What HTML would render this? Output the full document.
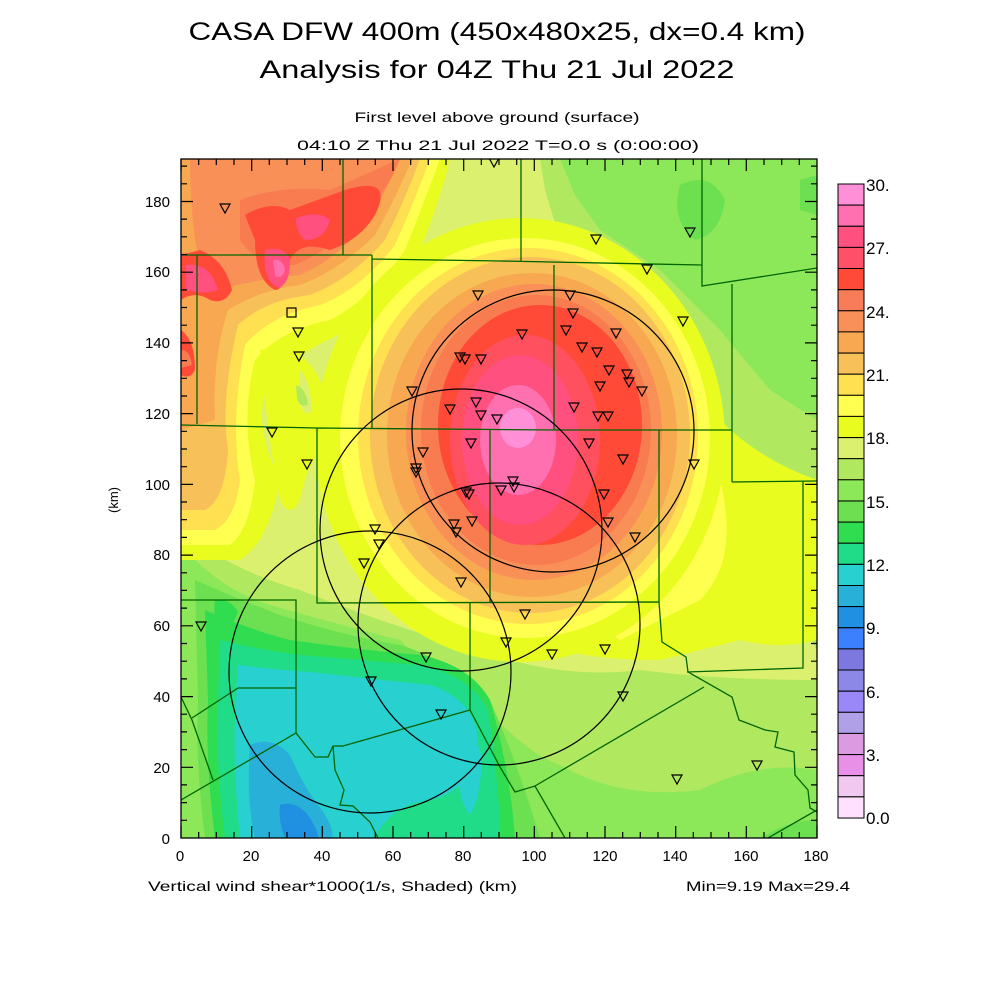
<!DOCTYPE html>
<html><head><meta charset="utf-8"><style>
html,body{margin:0;padding:0;background:#fff;}
svg{display:block;}
text{font-family:"Liberation Sans",sans-serif;fill:#000;}
</style></head><body>
<svg width="1000" height="1000" viewBox="0 0 1000 1000" xmlns="http://www.w3.org/2000/svg">
<rect width="1000" height="1000" fill="#fff"/>
<text x="497" y="40" font-size="25" text-anchor="middle" textLength="617" lengthAdjust="spacingAndGlyphs">CASA DFW 400m (450x480x25, dx=0.4 km)</text>
<text x="497" y="78" font-size="25" text-anchor="middle" textLength="475" lengthAdjust="spacingAndGlyphs">Analysis for 04Z Thu 21 Jul 2022</text>
<text x="497" y="122" font-size="14" text-anchor="middle" textLength="285" lengthAdjust="spacingAndGlyphs">First level above ground (surface)</text>
<text x="498" y="150" font-size="14" text-anchor="middle" textLength="402" lengthAdjust="spacingAndGlyphs">04:10 Z Thu 21 Jul 2022    T=0.0 s (0:00:00)</text>
<defs><clipPath id="pc"><rect x="181" y="159" width="636" height="679"/></clipPath></defs>
<g clip-path="url(#pc)">
<rect x="181" y="159" width="636" height="679" fill="#dcf070"/>
<!-- top right greens -->
<path d="M540,159 L817,159 L817,650 L790,600 L740,520 L700,430 L650,350 L600,290 L560,240 L545,190Z" fill="#b0e860"/>
<path d="M560,159 L817,159 L817,420 L770,390 L720,330 L660,270 L600,230 L575,195Z" fill="#8ce858"/>
<path d="M680,185 Q710,170 725,200 Q720,235 695,240 Q670,220 680,185Z" fill="#6ce050"/>
<path d="M800,180 L817,175 L817,215 L800,210Z" fill="#6ce050"/>
<!-- bottom greens -->
<path d="M181,530 Q230,570 300,590 Q400,630 480,650 Q560,680 640,670 Q720,680 817,680 L817,838 L181,838Z" fill="#b0e860"/>
<path d="M181,545 Q220,590 270,605 Q340,625 400,640 Q440,680 480,700 Q520,750 560,765 Q620,800 700,790 Q760,760 817,770 L817,838 L181,838Z" fill="#8ce858"/>
<path d="M195,580 Q240,600 280,615 Q340,635 400,645 Q450,660 490,700 Q520,770 540,838 L205,838 Q195,760 198,700Z" fill="#6ce050"/>
<path d="M700,838 Q710,800 760,790 Q800,780 817,800 L817,838Z" fill="#8ce858"/>
<path d="M760,838 Q790,820 817,820 L817,838Z" fill="#6ce050"/>
<path d="M205,610 Q250,630 290,640 Q360,650 420,655 Q470,665 490,700 Q510,770 515,838 L215,838 Q205,760 208,700Z" fill="#30dc50"/>
<path d="M215,600 Q230,598 238,612 Q233,628 222,628 Q212,620 215,600Z" fill="#30dc50"/>
<path d="M220,640 Q260,650 300,655 Q360,660 420,665 Q470,675 488,710 Q500,790 500,838 L225,838 Q215,760 218,700Z" fill="#20dc88"/>
<path d="M238,665 Q275,670 310,672 Q380,680 430,685 Q475,700 478,740 Q475,790 430,800 Q390,805 375,838 L240,838 Q232,760 236,700Z" fill="#28d0d0"/>
<path d="M460,740 Q478,730 482,760 Q480,800 470,815 Q458,800 458,770Z" fill="#28d0d0"/>
<path d="M250,745 Q272,735 290,755 Q305,790 322,810 Q335,830 332,838 L255,838 Q246,800 250,745Z" fill="#28b0d8"/>
<path d="M280,805 Q295,800 308,815 Q318,830 318,838 L285,838 Q278,820 280,805Z" fill="#2090e0"/>
<!-- right yellow -->
<path d="M600,300 Q680,340 720,420 Q760,460 817,480 L817,640 Q780,650 740,640 Q700,650 660,660 Q600,660 560,650 L520,600Z" fill="#e8fc20"/>
<path d="M620,380 Q690,420 720,480 Q740,560 700,600 Q660,620 620,640 L560,600Z" fill="#ffff50"/>
<!-- top-left warm region -->
<path d="M181,159 L450,159 Q440,200 420,250 Q390,300 350,330 Q300,350 270,380 Q250,420 280,480 Q270,540 240,560 Q210,560 181,560Z" fill="#e8fc20"/>
<path d="M181,159 L440,159 Q425,200 405,250 Q370,300 330,320 Q280,330 255,360 Q240,420 255,480 Q250,530 230,545 Q205,545 181,545Z" fill="#ffff50"/>
<path d="M181,159 L430,159 Q415,200 395,245 Q360,290 320,305 Q270,315 245,345 Q230,420 240,480 Q235,520 215,530 L181,530Z" fill="#ffe050"/>
<path d="M181,159 L420,159 Q405,200 385,240 Q350,280 310,295 Q265,300 238,325 Q220,400 228,450 Q225,500 205,510 L181,510Z" fill="#f8c058"/>
<path d="M181,159 L412,159 Q395,200 375,235 Q340,270 300,285 Q260,290 228,310 Q212,360 215,420 L181,430Z" fill="#f8a850"/>
<path d="M190,159 L400,159 Q385,195 365,225 Q335,260 300,275 Q250,280 220,290 Q200,270 195,240 Q190,200 190,159Z" fill="#f89058"/>
<path d="M240,200 Q280,185 330,190 L400,159 Q385,195 360,220 Q330,250 295,265 Q255,265 240,240Z" fill="#f87c50"/>
<path d="M245,215 Q270,200 290,210 L345,190 Q395,175 375,215 Q360,240 330,250 Q300,240 290,260 Q285,290 275,290 Q255,280 255,240Z" fill="#ff4a38"/>
<path d="M296,218 Q320,210 330,220 Q325,240 305,240 Q295,230 296,218Z" fill="#ff5080"/>
<path d="M265,250 Q285,245 290,260 Q290,285 278,288 Q262,280 265,250Z" fill="#ff5080"/>
<path d="M273,260 Q283,258 285,270 Q282,280 275,276Z" fill="#ff70b0"/>
<path d="M181,255 L200,250 Q225,260 232,290 Q225,305 210,300 Q195,290 181,300Z" fill="#ff4a38"/>
<path d="M186,265 Q210,262 218,290 Q205,295 186,290Z" fill="#ff5080"/>
<path d="M181,330 Q195,340 195,370 Q190,380 181,375Z" fill="#ff4a38"/>
<path d="M181,350 Q190,350 192,365 L181,368Z" fill="#f87c50"/>
<!-- left mid greenish -->
<path d="M260,350 Q300,340 320,380 Q330,420 320,450 Q305,470 300,500 Q290,520 280,500 Q270,450 265,400Z" fill="#e8fc20"/>
<path d="M300,370 Q310,380 312,410 Q305,420 298,400Z" fill="#dcf070"/>
<path d="M296,385 Q306,388 308,405 Q300,408 297,398Z" fill="#b0e860"/>
<!-- core -->
<ellipse cx="520" cy="440" rx="205" ry="222" fill="#e8fc20"/>
<ellipse cx="525" cy="438" rx="185" ry="200" fill="#ffff50"/>
<ellipse cx="528" cy="436" rx="170" ry="188" fill="#ffe050"/>
<ellipse cx="530" cy="435" rx="160" ry="178" fill="#f8c058"/>
<ellipse cx="532" cy="435" rx="145" ry="162" fill="#f8a850"/>
<ellipse cx="534" cy="432" rx="128" ry="148" fill="#f89058"/>
<ellipse cx="536" cy="430" rx="115" ry="135" fill="#f87c50"/>
<ellipse cx="540" cy="425" rx="102" ry="120" fill="#ff4a38"/>
<ellipse cx="525" cy="440" rx="75" ry="105" fill="#ff5060"/>
<ellipse cx="520" cy="440" rx="58" ry="85" fill="#ff5080"/>
<ellipse cx="518" cy="440" rx="38" ry="55" fill="#ff70b0"/>
<ellipse cx="518" cy="428" rx="18" ry="20" fill="#ff90d8"/>
<!-- county lines -->
<g fill="none" stroke="#006400" stroke-width="1.3">
<path d="M343,159 L343,255 M181,255 L372,255 M197,255 L197,424 M181,425 L317,428 L554,430 L732,430 M372,255 L372,428 M372,259 L500,261 L702,265 M521,159 L521,261 M702,159 L702,286 L817,268 M732,284 L732,482 M554,265 L554,430 M659,430 L659,602 M732,482 L817,481 M803,481 L803,668 L687,672 M317,428 L317,603 L659,602 M490,430 L490,603 M181,600 L296,600 L296,733 M238,688 L296,688 M181,697 L192,720 L213,780 M192,718 L238,688 M181,800 L296,733 L315,757 L328,757 L333,746 L343,746 L470,710 M470,603 L470,710 L500,767 L515,792 L535,786 L565,838 M535,786 L704,687 M659,602 L662,642 L686,657 L688,672 L732,697 L739,720 L765,730 L778,732 L775,747 L794,752 L795,775 L808,790 L810,808 L817,812 M768,838 L817,810 M333,746 L335,770 L344,790 L340,805 L353,806 L370,822 L378,838"/>
</g>
<!-- range circles -->
<g fill="none" stroke="#000" stroke-width="1.2">
<circle cx="553" cy="431" r="141"/>
<circle cx="461" cy="530" r="141"/>
<circle cx="499" cy="624" r="141"/>
<circle cx="370" cy="672" r="141"/>
</g>
<!-- stations -->
<g fill="none" stroke="#000" stroke-width="1.2">
<path d="M-5,-4 L5,-4 L0,5Z" transform="translate(225,208)"/>
<path d="M-5,-4 L5,-4 L0,5Z" transform="translate(298,332)"/>
<path d="M-5,-4 L5,-4 L0,5Z" transform="translate(299,356)"/>
<path d="M-5,-4 L5,-4 L0,5Z" transform="translate(272,432)"/>
<path d="M-5,-4 L5,-4 L0,5Z" transform="translate(307,464)"/>
<path d="M-5,-4 L5,-4 L0,5Z" transform="translate(478,295)"/>
<path d="M-5,-4 L5,-4 L0,5Z" transform="translate(494,162)"/>
<path d="M-5,-4 L5,-4 L0,5Z" transform="translate(596,239)"/>
<path d="M-5,-4 L5,-4 L0,5Z" transform="translate(647,269)"/>
<path d="M-5,-4 L5,-4 L0,5Z" transform="translate(690,232)"/>
<path d="M-5,-4 L5,-4 L0,5Z" transform="translate(683,321)"/>
<path d="M-5,-4 L5,-4 L0,5Z" transform="translate(570,295)"/>
<path d="M-5,-4 L5,-4 L0,5Z" transform="translate(573,313)"/>
<path d="M-5,-4 L5,-4 L0,5Z" transform="translate(566,330)"/>
<path d="M-5,-4 L5,-4 L0,5Z" transform="translate(616,333)"/>
<path d="M-5,-4 L5,-4 L0,5Z" transform="translate(522,334)"/>
<path d="M-5,-4 L5,-4 L0,5Z" transform="translate(582,347)"/>
<path d="M-5,-4 L5,-4 L0,5Z" transform="translate(597,352)"/>
<path d="M-5,-4 L5,-4 L0,5Z" transform="translate(609,370)"/>
<path d="M-5,-4 L5,-4 L0,5Z" transform="translate(627,374)"/>
<path d="M-5,-4 L5,-4 L0,5Z" transform="translate(629,382)"/>
<path d="M-5,-4 L5,-4 L0,5Z" transform="translate(642,391)"/>
<path d="M-5,-4 L5,-4 L0,5Z" transform="translate(600,386)"/>
<path d="M-5,-4 L5,-4 L0,5Z" transform="translate(574,407)"/>
<path d="M-5,-4 L5,-4 L0,5Z" transform="translate(598,416)"/>
<path d="M-5,-4 L5,-4 L0,5Z" transform="translate(608,416)"/>
<path d="M-5,-4 L5,-4 L0,5Z" transform="translate(589,443)"/>
<path d="M-5,-4 L5,-4 L0,5Z" transform="translate(623,459)"/>
<path d="M-5,-4 L5,-4 L0,5Z" transform="translate(694,464)"/>
<path d="M-5,-4 L5,-4 L0,5Z" transform="translate(604,494)"/>
<path d="M-5,-4 L5,-4 L0,5Z" transform="translate(608,522)"/>
<path d="M-5,-4 L5,-4 L0,5Z" transform="translate(635,537)"/>
<path d="M-5,-4 L5,-4 L0,5Z" transform="translate(460,357)"/>
<path d="M-5,-4 L5,-4 L0,5Z" transform="translate(465,359)"/>
<path d="M-5,-4 L5,-4 L0,5Z" transform="translate(481,359)"/>
<path d="M-5,-4 L5,-4 L0,5Z" transform="translate(412,391)"/>
<path d="M-5,-4 L5,-4 L0,5Z" transform="translate(450,409)"/>
<path d="M-5,-4 L5,-4 L0,5Z" transform="translate(476,402)"/>
<path d="M-5,-4 L5,-4 L0,5Z" transform="translate(481,415)"/>
<path d="M-5,-4 L5,-4 L0,5Z" transform="translate(497,419)"/>
<path d="M-5,-4 L5,-4 L0,5Z" transform="translate(423,452)"/>
<path d="M-5,-4 L5,-4 L0,5Z" transform="translate(471,443)"/>
<path d="M-5,-4 L5,-4 L0,5Z" transform="translate(416,468)"/>
<path d="M-5,-4 L5,-4 L0,5Z" transform="translate(416,472)"/>
<path d="M-5,-4 L5,-4 L0,5Z" transform="translate(513,481)"/>
<path d="M-5,-4 L5,-4 L0,5Z" transform="translate(514,487)"/>
<path d="M-5,-4 L5,-4 L0,5Z" transform="translate(466,492)"/>
<path d="M-5,-4 L5,-4 L0,5Z" transform="translate(469,494)"/>
<path d="M-5,-4 L5,-4 L0,5Z" transform="translate(501,490)"/>
<path d="M-5,-4 L5,-4 L0,5Z" transform="translate(472,521)"/>
<path d="M-5,-4 L5,-4 L0,5Z" transform="translate(454,524)"/>
<path d="M-5,-4 L5,-4 L0,5Z" transform="translate(456,532)"/>
<path d="M-5,-4 L5,-4 L0,5Z" transform="translate(375,529)"/>
<path d="M-5,-4 L5,-4 L0,5Z" transform="translate(379,544)"/>
<path d="M-5,-4 L5,-4 L0,5Z" transform="translate(364,563)"/>
<path d="M-5,-4 L5,-4 L0,5Z" transform="translate(461,582)"/>
<path d="M-5,-4 L5,-4 L0,5Z" transform="translate(525,614)"/>
<path d="M-5,-4 L5,-4 L0,5Z" transform="translate(506,642)"/>
<path d="M-5,-4 L5,-4 L0,5Z" transform="translate(552,654)"/>
<path d="M-5,-4 L5,-4 L0,5Z" transform="translate(605,649)"/>
<path d="M-5,-4 L5,-4 L0,5Z" transform="translate(426,657)"/>
<path d="M-5,-4 L5,-4 L0,5Z" transform="translate(371,681)"/>
<path d="M-5,-4 L5,-4 L0,5Z" transform="translate(441,714)"/>
<path d="M-5,-4 L5,-4 L0,5Z" transform="translate(201,626)"/>
<path d="M-5,-4 L5,-4 L0,5Z" transform="translate(623,696)"/>
<path d="M-5,-4 L5,-4 L0,5Z" transform="translate(677,779)"/>
<path d="M-5,-4 L5,-4 L0,5Z" transform="translate(757,765)"/>
<rect x="287" y="308" width="9" height="9"/>
</g>
</g>
<!-- frame & ticks -->
<rect x="181" y="159" width="636" height="679" fill="none" stroke="#000" stroke-width="1.3"/>
<g stroke="#000" stroke-width="1.2">
<path d="M181,838 v-12 M198.7,838 v-6 M216.3,838 v-6 M234,838 v-6 M251.7,838 v-12 M269.3,838 v-6 M287,838 v-6 M304.7,838 v-6 M322.3,838 v-12 M340,838 v-6 M357.7,838 v-6 M375.3,838 v-6 M393,838 v-12 M410.7,838 v-6 M428.3,838 v-6 M446,838 v-6 M463.7,838 v-12 M481.3,838 v-6 M499,838 v-6 M516.7,838 v-6 M534.3,838 v-12 M552,838 v-6 M569.7,838 v-6 M587.3,838 v-6 M605,838 v-12 M622.7,838 v-6 M640.3,838 v-6 M658,838 v-6 M675.7,838 v-12 M693.3,838 v-6 M711,838 v-6 M728.7,838 v-6 M746.3,838 v-12 M764,838 v-6 M781.7,838 v-6 M799.3,838 v-6 M817,838 v-12"/>
<path d="M181,159 v12 M198.7,159 v6 M216.3,159 v6 M234,159 v6 M251.7,159 v12 M269.3,159 v6 M287,159 v6 M304.7,159 v6 M322.3,159 v12 M340,159 v6 M357.7,159 v6 M375.3,159 v6 M393,159 v12 M410.7,159 v6 M428.3,159 v6 M446,159 v6 M463.7,159 v12 M481.3,159 v6 M499,159 v6 M516.7,159 v6 M534.3,159 v12 M552,159 v6 M569.7,159 v6 M587.3,159 v6 M605,159 v12 M622.7,159 v6 M640.3,159 v6 M658,159 v6 M675.7,159 v12 M693.3,159 v6 M711,159 v6 M728.7,159 v6 M746.3,159 v12 M764,159 v6 M781.7,159 v6 M799.3,159 v6"/>
<path d="M181,820.3 h6 M181,802.6 h6 M181,784.9 h6 M181,767.3 h12 M181,749.6 h6 M181,731.9 h6 M181,714.2 h6 M181,696.6 h12 M181,678.9 h6 M181,661.2 h6 M181,643.5 h6 M181,625.8 h12 M181,608.1 h6 M181,590.4 h6 M181,572.8 h6 M181,555.1 h12 M181,537.4 h6 M181,519.7 h6 M181,502 h6 M181,484.4 h12 M181,466.7 h6 M181,449 h6 M181,431.3 h6 M181,413.6 h12 M181,396 h6 M181,378.3 h6 M181,360.6 h6 M181,342.9 h12 M181,325.2 h6 M181,307.5 h6 M181,289.9 h6 M181,272.2 h12 M181,254.5 h6 M181,236.8 h6 M181,219.1 h6 M181,201.5 h12 M181,183.8 h6 M181,166.1 h6"/>
<path d="M817,820.3 h-6 M817,802.6 h-6 M817,784.9 h-6 M817,767.3 h-12 M817,749.6 h-6 M817,731.9 h-6 M817,714.2 h-6 M817,696.6 h-12 M817,678.9 h-6 M817,661.2 h-6 M817,643.5 h-6 M817,625.8 h-12 M817,608.1 h-6 M817,590.4 h-6 M817,572.8 h-6 M817,555.1 h-12 M817,537.4 h-6 M817,519.7 h-6 M817,502 h-6 M817,484.4 h-12 M817,466.7 h-6 M817,449 h-6 M817,431.3 h-6 M817,413.6 h-12 M817,396 h-6 M817,378.3 h-6 M817,360.6 h-6 M817,342.9 h-12 M817,325.2 h-6 M817,307.5 h-6 M817,289.9 h-6 M817,272.2 h-12 M817,254.5 h-6 M817,236.8 h-6 M817,219.1 h-6 M817,201.5 h-12 M817,183.8 h-6 M817,166.1 h-6"/>
</g>
<g font-size="15" text-anchor="middle">
<text x="180" y="861">0</text><text x="251" y="861">20</text><text x="322" y="861">40</text><text x="393" y="861">60</text><text x="463" y="861">80</text><text x="534" y="861">100</text><text x="605" y="861">120</text><text x="675" y="861">140</text><text x="746" y="861">160</text><text x="816" y="861">180</text>
</g>
<g font-size="15" text-anchor="end">
<text x="170" y="844">0</text><text x="170" y="773">20</text><text x="170" y="702">40</text><text x="170" y="631">60</text><text x="170" y="560">80</text><text x="170" y="490">100</text><text x="170" y="419">120</text><text x="170" y="348">140</text><text x="170" y="277">160</text><text x="170" y="207">180</text>
</g>
<text x="118" y="500" font-size="13" text-anchor="middle" transform="rotate(-90 118 500)">(km)</text>
<text x="148" y="891" font-size="14" textLength="369" lengthAdjust="spacingAndGlyphs">Vertical wind shear*1000(1/s, Shaded)  (km)</text>
<text x="686" y="891" font-size="14" textLength="164" lengthAdjust="spacingAndGlyphs">Min=9.19 Max=29.4</text>
<!-- colorbar -->
<g stroke="#000" stroke-width="1">
<rect x="838" y="184" width="26" height="21.13" fill="#ff90d8"/>
<rect x="838" y="205.1" width="26" height="21.13" fill="#ff70b0"/>
<rect x="838" y="226.3" width="26" height="21.13" fill="#ff5080"/>
<rect x="838" y="247.4" width="26" height="21.13" fill="#ff5068"/>
<rect x="838" y="268.5" width="26" height="21.13" fill="#ff4a38"/>
<rect x="838" y="289.7" width="26" height="21.13" fill="#f87c58"/>
<rect x="838" y="310.8" width="26" height="21.13" fill="#f89058"/>
<rect x="838" y="331.9" width="26" height="21.13" fill="#f8a850"/>
<rect x="838" y="353.1" width="26" height="21.13" fill="#f8c058"/>
<rect x="838" y="374.2" width="26" height="21.13" fill="#ffe050"/>
<rect x="838" y="395.3" width="26" height="21.13" fill="#ffff50"/>
<rect x="838" y="416.4" width="26" height="21.13" fill="#e8fc20"/>
<rect x="838" y="437.6" width="26" height="21.13" fill="#dcf070"/>
<rect x="838" y="458.7" width="26" height="21.13" fill="#b0e860"/>
<rect x="838" y="479.8" width="26" height="21.13" fill="#8ce858"/>
<rect x="838" y="501" width="26" height="21.13" fill="#6ce050"/>
<rect x="838" y="522.1" width="26" height="21.13" fill="#30dc50"/>
<rect x="838" y="543.2" width="26" height="21.13" fill="#20dc88"/>
<rect x="838" y="564.4" width="26" height="21.13" fill="#28d0d0"/>
<rect x="838" y="585.5" width="26" height="21.13" fill="#28b0d8"/>
<rect x="838" y="606.6" width="26" height="21.13" fill="#2090e0"/>
<rect x="838" y="627.8" width="26" height="21.13" fill="#3c80ff"/>
<rect x="838" y="648.9" width="26" height="21.13" fill="#7c78e0"/>
<rect x="838" y="670" width="26" height="21.13" fill="#8c88e8"/>
<rect x="838" y="691.2" width="26" height="21.13" fill="#9a88f8"/>
<rect x="838" y="712.3" width="26" height="21.13" fill="#b0a0e8"/>
<rect x="838" y="733.4" width="26" height="21.13" fill="#dc9ae0"/>
<rect x="838" y="754.6" width="26" height="21.13" fill="#e890e8"/>
<rect x="838" y="775.7" width="26" height="21.13" fill="#f0c8f0"/>
<rect x="838" y="796.9" width="26" height="21.13" fill="#ffe0ff"/>
</g>
<g font-size="17">
<text x="866" y="191">30.</text><text x="866" y="254">27.</text><text x="866" y="318">24.</text><text x="866" y="381">21.</text><text x="866" y="444">18.</text><text x="866" y="508">15.</text><text x="866" y="571">12.</text><text x="866" y="634">9.</text><text x="866" y="698">6.</text><text x="866" y="761">3.</text><text x="866" y="824">0.0</text>
</g>
</svg>
</body></html>
